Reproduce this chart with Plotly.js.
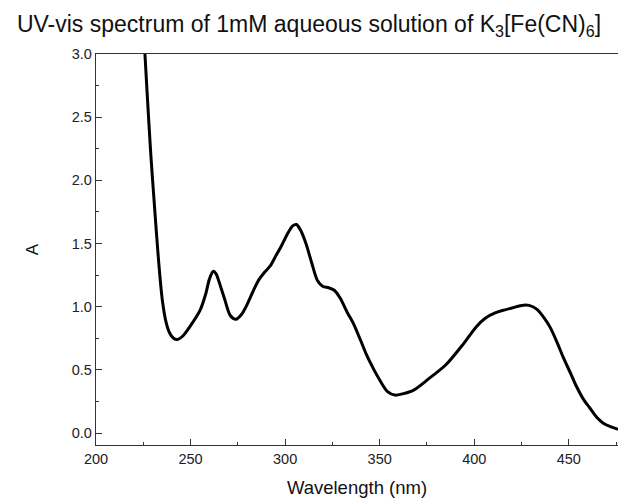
<!DOCTYPE html>
<html>
<head>
<meta charset="utf-8">
<script src="https://cdn.plot.ly/plotly-3.0.1.min.js"></script>
<style>html,body{margin:0;padding:0;background:#fff;overflow:hidden;}</style>
</head>
<body>
<div id="chart" style="width:618px;height:499px;"></div>
<script>
const wavelength = [225.5, 227, 229, 231, 233, 235, 237, 239, 241, 243, 246, 250, 255, 258, 260, 262, 263.5, 265, 268, 271, 274, 277, 280, 283, 286, 289, 292, 295, 298, 301, 304, 306, 308, 311, 314, 317, 320, 323, 326, 329, 333, 336, 340, 343, 347, 350, 354, 358, 362, 368, 376, 385, 394, 401, 406, 411, 415, 420, 425, 429, 433, 437, 440, 444, 447, 451, 454, 458, 461, 465, 468, 472, 476];
const absorbance = [3.10, 2.70, 2.20, 1.78, 1.38, 1.06, 0.88, 0.79, 0.75, 0.74, 0.77, 0.85, 0.97, 1.10, 1.22, 1.28, 1.26, 1.20, 1.06, 0.93, 0.90, 0.94, 1.02, 1.12, 1.21, 1.27, 1.32, 1.40, 1.48, 1.57, 1.64, 1.65, 1.61, 1.50, 1.35, 1.21, 1.16, 1.15, 1.13, 1.07, 0.95, 0.87, 0.73, 0.62, 0.50, 0.42, 0.33, 0.30, 0.31, 0.34, 0.43, 0.54, 0.70, 0.84, 0.91, 0.95, 0.97, 0.99, 1.01, 1.01, 0.98, 0.91, 0.84, 0.71, 0.60, 0.47, 0.37, 0.26, 0.20, 0.12, 0.08, 0.05, 0.03];
const xTicks = [200, 250, 300, 350, 400, 450];
const yTicks = [0.0, 0.5, 1.0, 1.5, 2.0, 2.5, 3.0];

const font = "Arial, 'Liberation Sans', sans-serif";
const trace = {
  x: wavelength, y: absorbance, type: 'scatter', mode: 'lines',
  line: {color: '#000', width: 3, shape: 'spline', smoothing: 0.8},
  hoverinfo: 'skip'
};
const layout = {
  width: 618, height: 499,
  margin: {l: 96, r: 0, t: 54, b: 54},
  paper_bgcolor: '#fff', plot_bgcolor: '#fff',
  font: {family: font, color: '#222', size: 14},
  showlegend: false,
  title: {text: 'UV-vis spectrum of 1mM aqueous solution of K<sub>3</sub>[Fe(CN)<sub>6</sub>]', font: {family: font, size: 23, color: '#111'}, x: 0.5, xanchor: 'center', y: 0.968, yanchor: 'top'},
  xaxis: {
    range: [200, 476], tickvals: xTicks, ticktext: xTicks.map(String),
    ticks: 'inside', ticklen: 6, tickwidth: 1, tickcolor: '#333',
    minor: {ticks: 'inside', ticklen: 3, dtick: 25, tick0: 200, tickcolor: '#333', showgrid: false},
    showline: true, linecolor: '#333', linewidth: 1.2, mirror: true,
    showgrid: false, zeroline: false,
    tickfont: {size: 14.5, color: '#222'},
    title: {text: 'Wavelength (nm)', font: {size: 18.5, color: '#111'}, standoff: 15}
  },
  yaxis: {
    range: [-0.095, 3.0], tickvals: yTicks, ticktext: yTicks.map(v => v.toFixed(1)),
    ticks: 'inside', ticklen: 6, tickwidth: 1, tickcolor: '#333',
    minor: {ticks: 'inside', ticklen: 3, dtick: 0.25, tick0: 0, tickcolor: '#333', showgrid: false},
    showline: true, linecolor: '#333', linewidth: 1.2, mirror: false,
    showgrid: false, zeroline: false,
    tickfont: {size: 14.5, color: '#222'},
    title: {text: 'A', font: {size: 17, color: '#111'}, standoff: 28}
  }
};
Plotly.newPlot('chart', [trace], layout, {displayModeBar: false, staticPlot: true});
</script>
</body>
</html>
